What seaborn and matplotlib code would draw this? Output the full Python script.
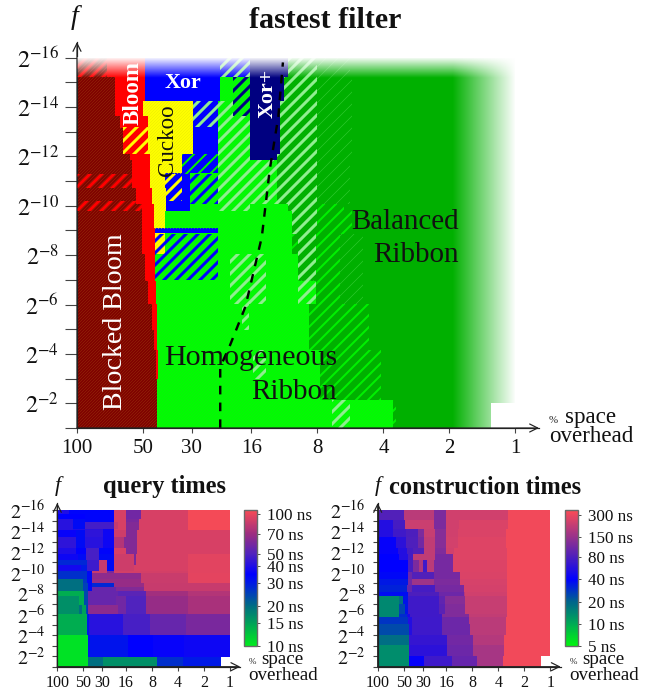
import numpy as np
import matplotlib
matplotlib.use("Agg")
import matplotlib as mpl
import matplotlib.pyplot as plt
from matplotlib.colors import ListedColormap, LinearSegmentedColormap, LogNorm
from matplotlib.patches import Rectangle
import seaborn as sns

sns.set_theme(style="ticks")
SERIF = "Liberation Serif"
plt.rcParams["font.family"] = [SERIF, "DejaVu Serif"]
plt.rcParams["mathtext.fontset"] = "stix"

# ---- data: x = log2(100 / overhead%), y = -log2(f) ----
x_tick_pct = [100, 50, 30, 16, 8, 4, 2, 1]
y_tick_exp = list(range(1, 17))
filter_colors = {"B": "#7f0000", "R": "#ff0000", "Y": "#ffff00", "X": "#0000ff",
                 "N": "#000080", "H": "#00ff00", "S": "#00b000"}
stripe_colors = {"r": "#ff0000", "y": "#ffff00", "b": "#0000ff", "n": "#000080",
                 "g": "#00f000", "l": "#90ee90", "t": "#30cc30"}
stripe_widths = {"r": 3, "y": 3, "b": 3, "n": 3, "g": 2, "l": 3, "t": 0.6}
texture_colors = {"B": "#96300a", "H": "#14e414", "Y": "#ecec00"}

main_edges = [16, 15.2, 14.25, 13.65, 13.17, 12.1, 11.83, 11.3, 10.72, 10.2, 10.08,
              9.8, 9.07, 8.87, 8.05, 6.98, 6.04, 4.96, 4.15, 3.0, 2.13, 2.0, 1]
main_rows = [
    [(.45, "Br"), (1.03, "R"), (2.17, "X"), (2.62, "Xl"), (3.2, "N"), (3.63, "Sl"), (4.14, "St"), (6.64, "S")],
    [(.58, "B"), (1.03, "R"), (2.17, "X"), (2.37, "H"), (2.62, "Hn"), (3.13, "N"), (3.63, "Sl"), (4.16, "St"), (6.64, "S")],
    [(.58, "B"), (1.0, "R"), (1.76, "Y"), (2.14, "Xl"), (2.37, "Hl"), (2.62, "Hn"), (3.08, "N"), (3.63, "Sl"), (4.16, "St"), (6.64, "S")],
    [(.65, "B"), (1.08, "R"), (1.76, "Y"), (2.14, "Xl"), (2.62, "Hl"), (3.08, "N"), (3.63, "Sl"), (4.16, "St"), (6.64, "S")],
    [(.70, "B"), (1.08, "Ry"), (1.76, "Y"), (2.14, "X"), (2.62, "Hl"), (3.08, "N"), (3.63, "Sl"), (4.16, "St"), (6.64, "S")],
    [(.80, "B"), (1.11, "R"), (1.59, "Y"), (2.14, "Xg"), (2.62, "Hl"), (3.03, "N"), (3.63, "Sl"), (4.16, "St"), (6.64, "S")],
    [(.83, "B"), (1.11, "R"), (1.59, "Y"), (2.14, "Xg"), (3.03, "Hl"), (3.63, "Sl"), (4.14, "St"), (6.64, "S")],
    [(.83, "Br"), (1.11, "R"), (1.33, "Y"), (1.59, "Xy"), (1.71, "X"), (2.14, "Hb"), (3.03, "Hl"), (3.63, "Sl"), (4.14, "St"), (6.64, "S")],
    [(.90, "B"), (1.13, "R"), (1.35, "Y"), (1.59, "Xy"), (1.71, "X"), (2.14, "Hb"), (3.03, "Hl"), (3.63, "Sl"), (4.14, "St"), (6.64, "S")],
    [(.90, "Br"), (1.13, "R"), (1.35, "Y"), (1.71, "X"), (2.14, "Hb"), (3.03, "Hl"), (3.63, "Sl"), (4.14, "St"), (6.64, "S")],
    [(.98, "Br"), (1.16, "R"), (1.35, "Y"), (1.71, "X"), (2.14, "H"), (2.62, "Hl"), (3.2, "H"), (3.63, "Sl"), (4.04, "Sg"), (6.64, "S")],
    [(.98, "B"), (1.16, "R"), (1.33, "Y"), (3.26, "H"), (3.63, "Sl"), (4.16, "Sg"), (6.64, "S")],
    [(.98, "B"), (1.18, "R"), (2.14, "X"), (3.26, "H"), (3.62, "Sl"), (4.16, "Sg"), (6.64, "S")],
    [(.98, "B"), (1.18, "R"), (1.33, "Yb"), (2.14, "Hb"), (3.26, "H"), (3.35, "Sg"), (3.62, "Sl"), (3.98, "Sg"), (4.34, "St"), (6.64, "S")],
    [(1.03, "B"), (1.18, "R"), (2.14, "Hb"), (2.32, "H"), (2.87, "Hl"), (3.35, "H"), (3.62, "Sl"), (3.98, "Sg"), (4.34, "St"), (6.64, "S")],
    [(1.07, "B"), (1.20, "R"), (2.32, "H"), (2.87, "Hl"), (3.35, "H"), (3.62, "Hl"), (3.98, "Sg"), (4.34, "St"), (6.64, "S")],
    [(1.13, "B"), (1.21, "R"), (2.5, "H"), (2.6, "Hl"), (3.52, "H"), (4.43, "Sg"), (6.64, "S")],
    [(1.17, "B"), (1.21, "R"), (3.52, "H"), (4.43, "Sg"), (6.64, "S")],
    [(1.20, "B"), (1.22, "R"), (2.67, "H"), (2.87, "Hl"), (3.68, "H"), (4.61, "Sg"), (6.64, "S")],
    [(1.21, "B"), (3.68, "H"), (4.61, "Sg"), (6.64, "S")],
    [(1.21, "B"), (3.86, "H"), (4.14, "Hl"), (4.79, "H"), (4.83, "Sg"), (6.64, "S")],
    [(1.21, "B"), (3.86, "H"), (4.14, "Hl"), (4.79, "H"), (4.83, "Sg"), (6.27, "S")],
]
best_line_o = [2.17, 2.17, 2.32, 2.55, 2.80, 2.92, 3.05, 3.12]
best_line_e = [1.0, 3.47, 4.36, 5.9, 8.73, 11.45, 13.6, 15.8]

query_ticks = [100, 70, 50, 40, 30, 20, 15, 10]
query_stops_v = [10, 15, 20, 30, 35, 50, 70, 107]
query_stops_c = [(0, 235, 30), (0, 160, 90), (0, 110, 130), (0, 25, 230), (0, 0, 255),
                 (80, 35, 190), (155, 45, 130), (248, 75, 85)]
query_edges = [16, 15.63, 15.15, 14.9, 14.26, 14.1, 13.46, 12.34, 11.86, 11.22, 10.74,
               10.17, 10.0, 9.4, 8.99, 8.67, 8.28, 7.77, 6.91, 6.05, 4.04, 1.96, 1]
query_rows = [
    [(.45, 40), (2.17, 34), (2.63, 92), (3.21, 58), (5.04, 92), (6.64, 105)],
    [(1.06, 35), (2.17, 34), (2.63, 92), (3.21, 58), (5.04, 92), (6.64, 105)],
    [(.60, 42), (1.06, 33), (2.17, 34), (2.63, 92), (3.14, 60), (5.04, 92), (6.64, 105)],
    [(.60, 42), (1.06, 33), (2.17, 47), (2.34, 85), (2.63, 92), (3.14, 62), (5.04, 92), (6.64, 105)],
    [(.60, 42), (1.06, 40), (1.76, 42), (2.17, 37), (2.63, 92), (3.14, 62), (5.04, 92), (6.64, 105)],
    [(.72, 36), (1.06, 33), (1.76, 43), (2.17, 37), (2.63, 88), (3.08, 62), (6.64, 92)],
    [(.72, 43), (1.06, 33), (1.76, 42), (2.17, 37), (2.55, 78), (3.08, 62), (6.64, 92)],
    [(.72, 40), (1.10, 35), (1.61, 48), (2.17, 34), (2.63, 92), (3.08, 62), (6.64, 92)],
    [(.81, 37), (1.10, 33), (1.61, 48), (2.17, 33), (2.94, 88), (3.01, 60), (5.04, 92), (6.64, 96)],
    [(1.15, 28), (1.61, 46), (1.92, 85), (2.17, 33), (2.94, 88), (3.01, 62), (5.04, 92), (6.64, 96)],
    [(.91, 38), (1.15, 30), (1.61, 46), (1.92, 85), (2.17, 33), (2.94, 88), (5.04, 92), (6.64, 96)],
    [(1.15, 27), (1.35, 33), (1.92, 85), (2.17, 60), (5.04, 90), (6.64, 96)],
    [(1.15, 27), (1.35, 33), (3.21, 66), (5.04, 86), (6.64, 97)],
    [(1.0, 20), (1.15, 26), (1.35, 33), (3.21, 68), (5.04, 86), (6.64, 97)],
    [(1.0, 20), (1.19, 25), (1.35, 33), (2.17, 28), (3.32, 68), (6.64, 85)],
    [(1.0, 20), (1.19, 25), (1.35, 33), (2.25, 55), (3.32, 62), (6.64, 85)],
    [(1.02, 14), (1.19, 24), (2.25, 55), (2.34, 55), (3.40, 52), (5.04, 72), (6.64, 78)],
    [(.83, 16.5), (1.02, 14), (1.19, 24), (2.25, 55), (2.63, 58), (3.40, 50), (5.02, 68), (6.64, 74)],
    [(.83, 16.5), (.97, 20), (1.10, 15), (1.15, 24), (1.19, 26), (2.34, 65), (2.63, 58), (3.40, 50), (5.02, 68), (6.64, 74)],
    [(1.15, 14), (1.21, 30), (2.53, 42), (3.55, 48), (4.96, 55), (6.64, 60)],
    [(1.19, 10.5), (2.72, 31), (3.68, 35), (4.89, 36), (6.64, 37)],
    [(1.19, 10.5), (1.76, 20), (3.84, 16.5), (4.85, 27), (6.31, 30)],
]

build_ticks = [300, 150, 80, 40, 20, 10, 5]
build_stops_v = [5, 10, 20, 40, 80, 150, 350]
build_stops_c = [(0, 245, 15), (0, 170, 85), (0, 100, 140), (0, 0, 255), (75, 30, 190),
                 (150, 50, 140), (252, 75, 85)]
build_edges = [16, 15.1, 14.26, 13.46, 12.34, 11.86, 11.22, 10.1, 9.47, 8.83, 8.19, 7.77,
               7.07, 6.11, 5.73, 5.09, 4.04, 3.08, 2.05, 1]
build_rows = [
    [(1.02, 85), (2.15, 200), (2.61, 120), (5.01, 240), (6.64, 320)],
    [(.59, 55), (1.04, 75), (2.15, 230), (2.61, 120), (3.14, 240), (5.01, 260), (6.64, 320)],
    [(.59, 55), (1.08, 72), (1.55, 80), (1.77, 120), (2.19, 220), (2.61, 130), (3.08, 240), (4.92, 260), (6.64, 320)],
    [(.70, 42), (1.08, 60), (1.55, 82), (1.77, 110), (2.19, 210), (2.61, 130), (3.08, 245), (4.92, 270), (6.64, 320)],
    [(.76, 42), (1.11, 55), (1.36, 75), (1.77, 85), (2.19, 210), (2.61, 125), (2.93, 240), (4.96, 270), (6.64, 320)],
    [(.81, 40), (1.15, 55), (1.36, 75), (2.19, 210), (2.91, 115), (4.96, 270), (6.64, 320)],
    [(1.15, 40), (1.36, 78), (1.58, 120), (1.74, 180), (1.88, 70), (2.16, 200), (2.91, 115), (4.96, 265), (6.64, 320)],
    [(1.15, 38), (1.32, 105), (2.15, 85), (3.18, 115), (4.99, 260), (6.64, 320)],
    [(1.15, 34), (1.32, 110), (2.15, 160), (3.18, 120), (4.99, 255), (6.64, 320)],
    [(1.11, 32), (1.32, 100), (2.21, 75), (3.30, 115), (4.99, 250), (6.64, 320)],
    [(1.17, 37), (2.34, 80), (3.30, 105), (3.37, 190), (4.99, 240), (6.64, 320)],
    [(.81, 14), (.98, 18), (1.17, 35), (2.34, 72), (2.60, 95), (3.37, 130), (4.99, 220), (6.64, 320)],
    [(.81, 14), (1.04, 25), (1.17, 35), (2.34, 72), (2.60, 90), (3.37, 125), (4.99, 220), (6.64, 320)],
    [(.81, 14), (1.11, 30), (1.24, 50), (2.47, 72), (3.52, 125), (4.99, 215), (6.64, 320)],
    [(1.17, 28), (1.30, 55), (2.47, 70), (3.52, 105), (4.92, 200), (6.64, 320)],
    [(1.20, 24), (1.32, 55), (2.49, 70), (3.55, 105), (4.92, 200), (6.64, 320)],
    [(1.20, 18), (2.68, 65), (3.68, 110), (4.86, 190), (6.64, 320)],
    [(1.20, 13.5), (2.68, 60), (3.68, 105), (4.86, 170), (6.64, 320)],
    [(1.20, 13.5), (1.77, 42), (2.84, 70), (3.83, 100), (4.82, 170), (6.27, 320)],
]

# ---- layout helpers ----
W, H = 647, 690
fig = plt.figure(figsize=(W / 72, H / 72), dpi=72)


def axes_px(x0, x1, y_top, y_bot):
    return fig.add_axes([x0 / W, 1 - y_bot / H, (x1 - x0) / W, (y_bot - y_top) / H])


def label(px, py, s, **kw):
    kw.setdefault("ha", "center")
    kw.setdefault("va", "center")
    return fig.text(px / W, 1 - py / H, s, **kw)


def paint(edges, rows, nx, ny, code=lambda v: v):
    mat = np.full((int(round(15 * ny)), int(round(6.64 * nx))), np.nan)
    for top, bot, row in zip(edges[:-1], edges[1:], rows):
        r0, r1 = int(round((16 - top) * ny)), int(round((16 - bot) * ny))
        left = 0.0
        for right, v in row:
            mat[r0:r1, int(round(left * nx)):int(round(right * nx))] = code(v)
            left = right
    return mat


def style_axis(ax, nx, ny, xmax_px, top_units, y_len, x_len, x_size, y_size, xpad, ypad):
    rows = int(round(15 * ny))
    ax.set_xlim(0, xmax_px * nx)
    ax.set_ylim(rows, rows - top_units * ny)
    ax.set_xticks([np.log2(100 / p) * nx for p in x_tick_pct])
    ax.set_xticklabels([str(p) for p in x_tick_pct], rotation=0, fontsize=x_size)
    ax.set_yticks([(16 - e) * ny for e in y_tick_exp])
    ax.set_yticklabels([f"$2^{{-{e}}}$" if e % 2 == 0 else "" for e in y_tick_exp],
                       rotation=0, fontsize=y_size, va="center_baseline")
    ax.tick_params(axis="x", length=x_len, width=1.1, color="#444444", pad=xpad, labelcolor="#111111")
    ax.tick_params(axis="y", length=y_len, width=1.1, color="#444444", pad=ypad, labelcolor="#111111")
    ax.spines[["top", "right"]].set_visible(False)
    ax.spines[["left", "bottom"]].set_visible(True)
    ax.spines[["left", "bottom"]].set_color("#222222")
    ax.spines[["left", "bottom"]].set_linewidth(1.2)
    ax.set_xlabel("")
    ax.set_ylabel("")
    for xy in [(1, 0), (0, 1)]:
        ax.annotate("", xy=xy, xytext=(0, 0), xycoords="axes fraction", textcoords="axes fraction",
                    arrowprops=dict(arrowstyle="->", lw=1.2, color="#222222", mutation_scale=20,
                                    shrinkA=0, shrinkB=0), zorder=6)


# ---- main panel ----
NX, NY = 66, 25
order = list(filter_colors)
main_mat = paint(main_edges, main_rows, NX, NY, code=lambda v: order.index(v[0]))
ax = axes_px(77, 539, 42, 428)
sns.heatmap(main_mat, ax=ax, cmap=ListedColormap([filter_colors[k] for k in order]),
            vmin=-0.5, vmax=len(order) - 0.5, cbar=False, xticklabels=False, yticklabels=False)
for top, bot, row in zip(main_edges[:-1], main_edges[1:], main_rows):
    left = 0.0
    for right, v in row:
        box = ((left * NX, (16 - top) * NY), (right - left) * NX, (top - bot) * NY)
        if v[0] in texture_colors:
            with mpl.rc_context({"hatch.linewidth": 0.5}):
                ax.add_patch(Rectangle(*box, facecolor="none", edgecolor=texture_colors[v[0]],
                                       hatch="////////", lw=0, zorder=2))
        if len(v) > 1:
            with mpl.rc_context({"hatch.linewidth": stripe_widths[v[1]]}):
                ax.add_patch(Rectangle(*box, facecolor="none", edgecolor=stripe_colors[v[1]],
                                       hatch="//", lw=0, zorder=3))
        left = right

fade_top = np.ones((64, 1, 4))
fade_top[:, 0, 3] = np.linspace(1, 0, 64)
ax.imshow(fade_top, extent=(0, 6.64 * NX, 0.85 * NY, 0), aspect="auto", zorder=4, interpolation="bilinear")
fade_right = np.ones((1, 64, 4))
fade_right[0, :, 3] = np.linspace(0, 1, 64)
ax.imshow(fade_right, extent=(5.68 * NX, 6.64 * NX, 15 * NY, 0), aspect="auto", zorder=4, interpolation="bilinear")

ax.plot(np.array(best_line_o) * NX, (16 - np.array(best_line_e)) * NY, color="black", lw=2.4,
        dashes=(3.6, 3.4), zorder=5)
style_axis(ax, NX, NY, 462 / 66, 386 / 24.7, 12, 5, 21, 24, 6, 6)

label(325, 21, "fastest filter", fontsize=30, fontweight="bold", color="#111111")
label(75, 18, "f", fontsize=28, style="italic", color="#111111")
label(183, 83, "Xor", fontsize=22, fontweight="bold", color="white")
label(133, 93, "Bloom", fontsize=23, fontweight="bold", color="white", rotation=90)
label(167, 140, "Cuckoo", fontsize=23, color="#111111", rotation=90)
label(268, 93, "Xor+", fontsize=22, fontweight="bold", color="white", rotation=90)
label(116, 322, "Blocked Bloom", fontsize=28, color="white", rotation=90)
label(337, 358, "Homogeneous", fontsize=30, color="#111111", ha="right")
label(337, 392, "Ribbon", fontsize=29, color="#111111", ha="right")
label(459, 222, "Balanced", fontsize=29, color="#111111", ha="right")
label(459, 255, "Ribbon", fontsize=29, color="#111111", ha="right")
label(549, 421, "%", fontsize=11, color="#222222", ha="left")
label(565, 418, "space", fontsize=23, color="#111111", ha="left")
label(549, 437, "overhead", fontsize=23, color="#111111", ha="left")


# ---- small panels ----
def panel(edges, rows, stops_v, stops_c, ticks, x0, cax_x0):
    nx, ny = 52, 20
    vmin, vmax = stops_v[0], stops_v[-1]
    pos = [(np.log(v) - np.log(vmin)) / (np.log(vmax) - np.log(vmin)) for v in stops_v]
    cols = [tuple(c / 255 for c in rgb) for rgb in stops_c]
    cmap = LinearSegmentedColormap.from_list("times", list(zip(pos, cols)))
    a = axes_px(x0, x0 + 183, 503, 666.7)
    cax = axes_px(cax_x0, cax_x0 + 13, 510, 646)
    sns.heatmap(paint(edges, rows, nx, ny), ax=a, cmap=cmap, norm=LogNorm(vmin, vmax), cbar=True,
                cbar_ax=cax, xticklabels=False, yticklabels=False)
    style_axis(a, nx, ny, 183 / 26, 163.7 / 10.43, 5, 4, 16, 20, 4, 7)
    cb = a.collections[0].colorbar
    cb.set_ticks(ticks)
    cb.set_ticklabels([f"{t} ns" for t in ticks])
    cb.ax.minorticks_off()
    cb.ax.tick_params(axis="y", length=3, width=1, color="#555555", labelsize=17, pad=7,
                      labelcolor="#111111", which="major")
    cb.outline.set_visible(True)
    cb.outline.set_linewidth(1.4)
    cb.outline.set_edgecolor("#6a6a6a")
    return a


panel(query_edges, query_rows, query_stops_v, query_stops_c, query_ticks, 57.3, 244)
panel(build_edges, build_rows, build_stops_v, build_stops_c, build_ticks, 377.7, 564.5)

label(58, 486, "f", fontsize=22, style="italic", color="#111111")
label(165, 487, "query times", fontsize=24.5, fontweight="bold", color="#111111")
label(378, 486, "f", fontsize=22, style="italic", color="#111111")
label(485, 487, "construction times", fontsize=24.5, fontweight="bold", color="#111111")
for px in (248, 569):
    label(px + 1, 662, "%", fontsize=9, color="#222222", ha="left")
    label(px + 13, 660, "space", fontsize=19, color="#111111", ha="left")
    label(px, 675, "overhead", fontsize=19, color="#111111", ha="left")

fig.savefig("out.png", dpi=72, facecolor="white")
